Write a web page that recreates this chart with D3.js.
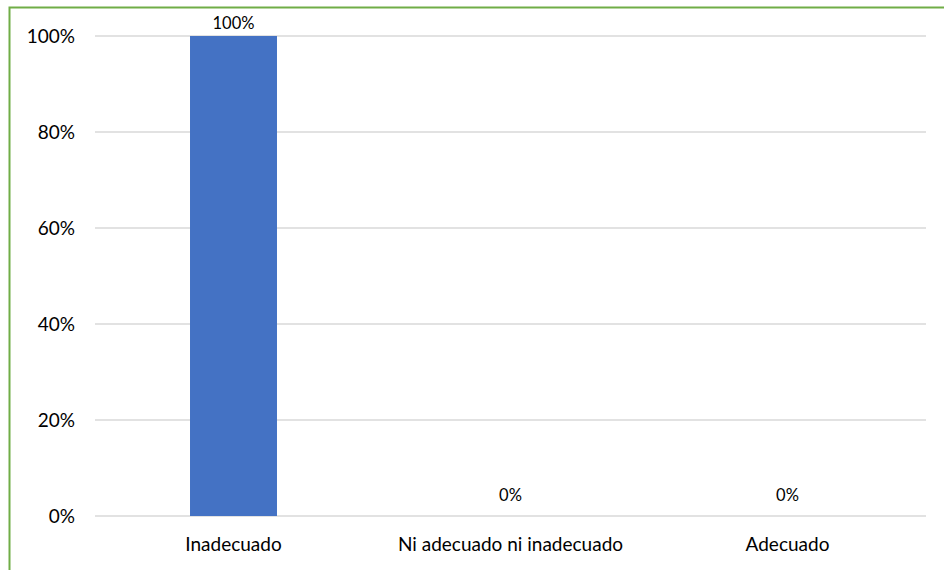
<!DOCTYPE html>
<meta charset="utf-8">
<style>
    html, body { margin: 0; padding: 0; background: #fff; }
    svg text { font-family: Lato, "Open Sans", sans-serif; fill: #000; }
</style>
<body>
<script src="https://cdnjs.cloudflare.com/ajax/libs/d3/7.8.5/d3.min.js"></script>
<script>
  var categories = ["Inadecuado", "Ni adecuado ni inadecuado", "Adecuado"];
  var values = [1.0, 0.0, 0.0];
  var yTicks = [0, 0.2, 0.4, 0.6, 0.8, 1.0];

  var W = 944, H = 570;
  // plot edges (note: "top" is reserved on window, so use other names)
  var plotLeft = 95, plotRight = 926, plotTop = 36, plotBottom = 516;

  var svg = d3.select("body").append("svg")
    .attr("width", W).attr("height", H);

  // chart border (right/bottom edges fall outside the picture)
  svg.append("rect")
    .attr("x", 9.5).attr("y", 7.5)
    .attr("width", 960).attr("height", 600)
    .attr("fill", "none").attr("stroke", "#70ad47").attr("stroke-width", 2);

  var x = d3.scaleBand().domain(categories).range([plotLeft, plotRight]).paddingInner(0.686).paddingOuter(0.343);
  var y = d3.scaleLinear().domain([0, 1]).range([plotBottom, plotTop]);

  // gridlines
  svg.append("g").selectAll("line")
    .data(yTicks)
    .enter().append("line")
    .attr("x1", plotLeft).attr("x2", plotRight)
    .attr("y1", function (d) { return y(d); })
    .attr("y2", function (d) { return y(d); })
    .attr("stroke", "#d9d9d9").attr("stroke-width", 1.5);

  // y tick labels
  svg.append("g").selectAll("text")
    .data(yTicks)
    .enter().append("text")
    .attr("x", 75)
    .attr("y", function (d) { return y(d) + 7; })
    .attr("text-anchor", "end")
    .style("font-size", "19px")
    .text(d3.format(".0%"));

  // bars
  svg.append("g").selectAll("rect")
    .data(values)
    .enter().append("rect")
    .attr("x", function (d, i) { return x(categories[i]); })
    .attr("width", x.bandwidth())
    .attr("y", function (d) { return y(d); })
    .attr("height", function (d) { return y(0) - y(d); })
    .attr("fill", "#4472c4");

  // value labels (kept inside the chart at the top)
  svg.append("g").selectAll("text")
    .data(values)
    .enter().append("text")
    .attr("x", function (d, i) { return x(categories[i]) + x.bandwidth() / 2; })
    .attr("y", function (d) { return Math.max(y(d) - 15, 29); })
    .attr("text-anchor", "middle")
    .style("font-size", "16.5px")
    .text(d3.format(".0%"));

  // category labels
  svg.append("g").selectAll("text")
    .data(categories)
    .enter().append("text")
    .attr("x", function (d) { return x(d) + x.bandwidth() / 2; })
    .attr("y", plotBottom + 35)
    .attr("text-anchor", "middle")
    .style("font-size", "19px")
    .text(function (d) { return d; });
</script>
